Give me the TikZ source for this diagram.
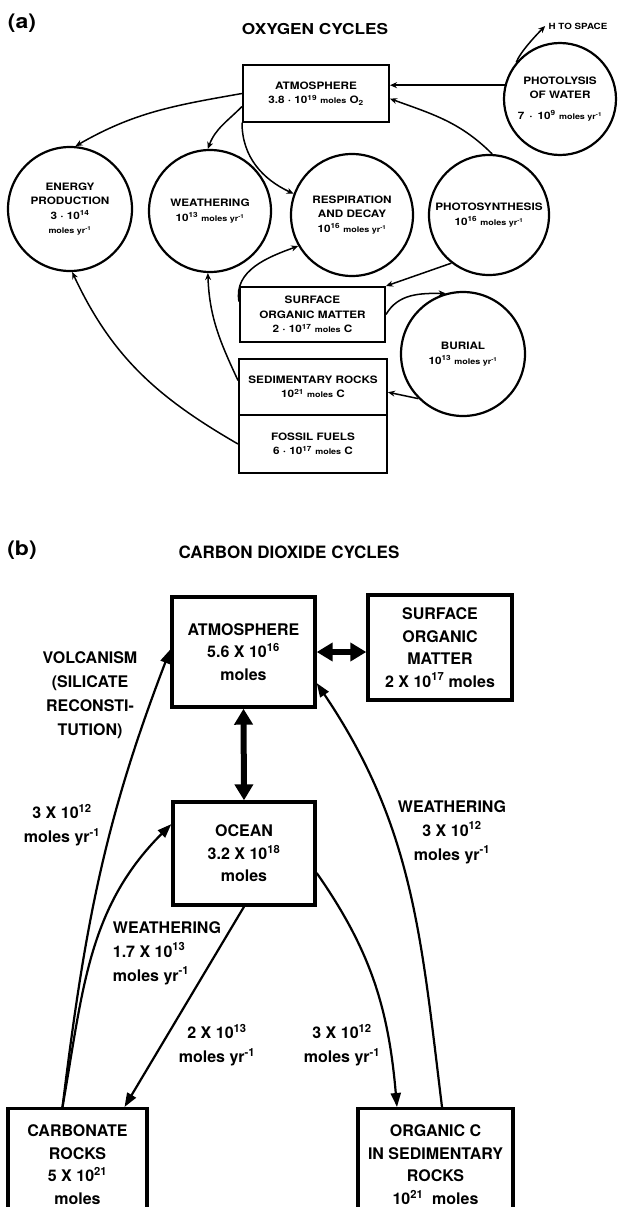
\documentclass[tikz,border=0pt]{standalone}
\usepackage{fontspec}
\setmainfont{TeX Gyre Heros}
\newfontfamily\wideheros[FakeStretch=1.15]{TeX Gyre Heros}
\usetikzlibrary{arrows.meta,positioning}
\newcommand{\smallunit}[1]{{\fontsize{7.8}{8}\selectfont #1}}

\begin{document}
\begin{tikzpicture}[x=1pt, y=1pt,
  pool/.style={draw, line width=2pt, minimum width=146pt, minimum height=56pt,
    inner sep=1pt, align=center, font=\wideheros\bfseries\fontsize{10.2}{14.5}\selectfont},
  flux/.style={draw, circle, line width=2.2pt, minimum size=122pt, inner sep=0pt,
    align=center, font=\wideheros\bfseries\fontsize{10.2}{14.5}\selectfont},
  arr/.style={-{Stealth[length=7pt, width=6pt]}, line width=1.5pt},
  res/.style={draw, line width=3.4pt, minimum width=143pt, minimum height=110pt,
    inner sep=2pt, align=center, font=\bfseries\fontsize{16}{22.5}\selectfont},
  note/.style={align=center, font=\bfseries\fontsize{16}{24}\selectfont},
  flow/.style={-{Triangle[length=14pt, width=10pt]}, line width=2.2pt},
  twoway/.style={{Triangle[length=16pt, width=18pt]}-{Triangle[length=16pt, width=18pt]},
    line width=6pt},
  tag/.style={font=\wideheros\bfseries\fontsize{20}{22}\selectfont},
  titlea/.style={font=\wideheros\bfseries\fontsize{15}{18}\selectfont},
  titleb/.style={font=\bfseries\fontsize{17}{20}\selectfont},
  spc/.style={font=\wideheros\bfseries\fontsize{8.5}{10}\selectfont}]
\useasboundingbox (0,0) rectangle (618,-1207);
\node[tag] (taga) at (22,-23) {(a)};
\node[titlea] (ttla) at (315,-29) {OXYGEN CYCLES};
\node[pool] (atmA) at (316,-93.5)
  {ATMOSPHERE\\3.8 · 10\textsuperscript{19} \smallunit{moles} O\textsubscript{2}};
\node[flux, minimum size=112pt] (lysis) at (560,-99)
  {PHOTOLYSIS\\OF WATER\\[6pt]7 \,·\, 10\textsuperscript{9} \smallunit{moles yr\textsuperscript{-1}}};
\node[spc] (space) at (578,-26) {H TO SPACE};
\node[flux, minimum size=124pt] (energy) at (70,-209)
  {ENERGY\\PRODUCTION\\3 · 10\textsuperscript{14}\\\smallunit{moles yr\textsuperscript{-1}}};
\node[flux] (weath) at (210,-211)
  {WEATHERING\\10\textsuperscript{13} \smallunit{moles yr\textsuperscript{-1}}};
\node[flux] (resp) at (352,-215)
  {RESPIRATION\\AND DECAY\\10\textsuperscript{16} \smallunit{moles yr\textsuperscript{-1}}};
\node[flux, minimum size=120pt] (photo) at (489,-215)
  {PHOTOSYNTHESIS\\10\textsuperscript{16} \smallunit{moles yr\textsuperscript{-1}}};
\node[flux, minimum size=124pt] (burial) at (463,-354)
  {BURIAL\\10\textsuperscript{13} \smallunit{moles yr\textsuperscript{-1}}};
\node[pool, minimum width=145pt, minimum height=55pt] (somA) at (312.5,-314.5)
  {SURFACE\\ORGANIC MATTER\\2 · 10\textsuperscript{17} \smallunit{moles} C};
\node[pool, minimum width=148pt] (sedA) at (313,-387)
  {SEDIMENTARY ROCKS\\10\textsuperscript{21} \smallunit{moles} C};
\node[pool, minimum width=148pt, minimum height=58pt] (fosA) at (313,-444)
  {FOSSIL FUELS\\6 · 10\textsuperscript{17} \smallunit{moles} C};
\draw[arr] (atmA.west) to[out=190, in=30] (energy.85);
\draw[arr] (atmA.190) to[out=225, in=70] (weath.92);
\draw[arr] (atmA.south west) to[out=-90, in=155] (resp.160);
\draw[arr] (lysis.166) -- (atmA.east |- lysis.166);
\draw[arr] (photo.87) to[out=135, in=-20] (atmA.-4);
\draw[arr] (lysis.140) to[out=70, in=-135, looseness=0.6] (space.west);
\draw[arr] (photo.232) -- (somA.north east);
\draw[arr] (somA.170) to[out=100, in=200] (resp.210);
\draw[arr] (somA.east) to[out=60, in=180] (burial.106);
\draw[arr] (burial.225) -- (sedA.-4);
\draw[arr] (sedA.175) to[out=115, in=-88] (weath.268);
\draw[arr] (fosA.west) to[out=150, in=-65] (energy.-88);
\node[tag] (tagb) at (22,-550) {(b)};
\node[titleb] (ttlb) at (289,-552) {CARBON DIOXIDE CYCLES};
\node[res] (atm) at (243.5,-652) {ATMOSPHERE\\5.6 X 10\textsuperscript{16}\\moles};
\node[res, minimum width=144pt, minimum height=105pt] (som) at (440,-647.5)
  {SURFACE\\ORGANIC\\MATTER\\2 X 10\textsuperscript{17} moles};
\node[res, minimum width=142pt, minimum height=103pt] (ocean) at (244,-853.5)
  {OCEAN\\3.2 X 10\textsuperscript{18}\\moles};
\node[res, anchor=north, minimum width=139pt, minimum height=112pt] (carb) at (77.5,-1107)
  {CARBONATE\\ROCKS\\5 X 10\textsuperscript{21}\\moles};
\node[res, anchor=north, minimum width=155pt, minimum height=112pt] (org) at (435.5,-1107)
  {ORGANIC C\\IN SEDIMENTARY\\ROCKS\\10\textsuperscript{21}~~moles};
\node[note] (volc) at (90,-695) {VOLCANISM\\(SILICATE\\RECONSTI-\\TUTION)};
\node[note] (fvolc) at (62,-825) {3 X 10\textsuperscript{12}\\moles yr\textsuperscript{-1}};
\node[note] (fwr) at (452,-832) {WEATHERING\\3 X 10\textsuperscript{12}\\moles yr\textsuperscript{-1}};
\node[note, align=left] (fwo) at (167,-953) {WEATHERING\\1.7 X 10\textsuperscript{13}\\moles yr\textsuperscript{-1}};
\node[note] (fcarb) at (217,-1045) {2 X 10\textsuperscript{13}\\moles yr\textsuperscript{-1}};
\node[note] (forg) at (342,-1045) {3 X 10\textsuperscript{12}\\moles yr\textsuperscript{-1}};
\draw[flow] ([xshift=-15pt]carb.north) to[out=83, in=-111] (atm.178);
\draw[flow] ([xshift=-15pt]carb.north) to[out=80, in=-135] (ocean.158);
\draw[flow] (ocean.south) -- ([xshift=47pt]carb.north);
\draw[flow] (ocean.-15) to[out=-55, in=95] ([xshift=-38.5pt]org.north);
\draw[flow] ([xshift=6.5pt]org.north) to[out=97, in=-56] (atm.-23);
\draw[twoway] (atm.south) -- (ocean.north);
\draw[twoway] (atm.east) -- (som.west |- atm.east);
\end{tikzpicture}
\end{document}
